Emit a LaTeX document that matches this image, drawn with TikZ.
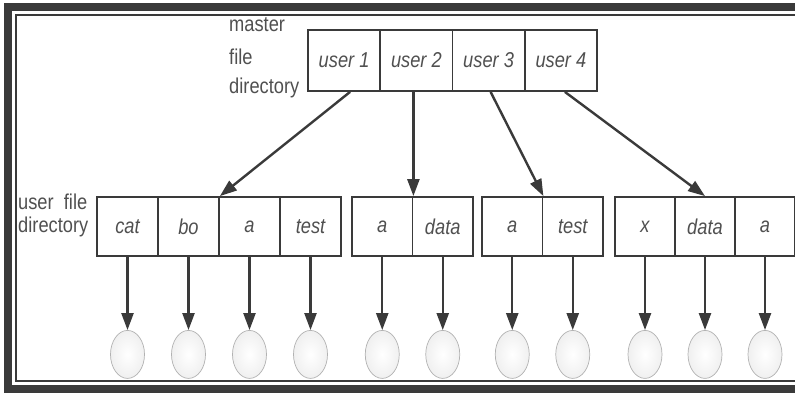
\documentclass[tikz,border=0pt]{standalone}
\usepackage{fontspec}
\setmainfont[FakeStretch=0.85]{Liberation Sans}
\usetikzlibrary{arrows.meta,calc,shapes.geometric}
\definecolor{ink}{HTML}{3A3A3A}
\definecolor{txt}{HTML}{505050}
\begin{document}
\begin{tikzpicture}[x=1pt,y=-1pt,
  cellbox/.style={draw=ink,line width=1.8pt,minimum height=59pt,inner sep=0pt,
    font=\fontsize{21.5}{21.5}\selectfont\itshape,text=txt},
  mcell/.style={cellbox,minimum width=72.25pt,minimum height=61pt},
  ucell/.style={cellbox,minimum width=61pt},
  ucellb/.style={cellbox,minimum width=60.5pt},
  filenode/.style={ellipse,minimum width=34pt,minimum height=48pt,inner sep=0pt,
    draw=gray!60,line width=0.7pt,inner color=white,outer color=gray!12},
  ptr/.style={draw=ink,line width=2.4pt,-{Triangle[length=17pt,width=12pt]}},
  lbl/.style={font=\fontsize{21.5}{21.5}\selectfont,text=txt,inner sep=0pt,anchor=west}
]
\useasboundingbox (0,0) rectangle (795,393);
% frame
\begin{scope}
\clip (0,0) rectangle (795,393);
\draw[ink,line width=8pt] (8,7) rectangle (830,389);
\draw[ink,line width=1.3pt] (16,15) rectangle (830,381);
\end{scope}
% master file directory
\node[lbl] (ml1) at (229,25) {master};
\node[lbl] (ml2) at (229,57) {file};
\node[lbl] (ml3) at (229,88) {directory};
\node[mcell] (u1) at (344.1,60.5) {user 1};
\node[mcell] (u2) at (416.4,60.5) {user 2};
\node[mcell] (u3) at (488.6,60.5) {user 3};
\node[mcell] (u4) at (560.9,60.5) {user 4};
% user file directory label
\node[lbl] (ul1) at (18,202) {user\ \ file};
\node[lbl] (ul2) at (18,227) {directory};
% user file directories
\node[ucell] (g1a) at (127.5,226.5) {cat};
\node[ucell] (g1b) at (188.5,226.5) {bo};
\node[ucell] (g1c) at (249.5,226.5) {a};
\node[ucell] (g1d) at (310.5,226.5) {test};
\node[ucellb] (g2a) at (382.25,226.5) {a};
\node[ucellb] (g2b) at (442.75,226.5) {data};
\node[ucellb] (g3a) at (512.25,226.5) {a};
\node[ucellb] (g3b) at (572.75,226.5) {test};
\node[ucell,minimum width=60pt] (g4a) at (645,226.5) {x};
\node[ucell,minimum width=60pt] (g4b) at (705,226.5) {data};
\node[ucell,minimum width=60pt] (g4c) at (765,226.5) {a};
% files
\foreach \c in {g1a,g1b,g1c,g1d,g2a,g2b,g3a,g3b,g4a,g4b,g4c}{
  \node[filenode] (f\c) at ($(\c.south)+(0,97.5)$) {};
  \draw[ptr] (\c.south) -- (f\c.north);
}
% master pointers
\coordinate (s1) at ($(u1.south)+(6,0)$);
\coordinate (s2) at (g2a.north east |- u2.south);
\coordinate (s3) at ($(u3.south)+(2,0)$);
\coordinate (s4) at ($(u4.south)+(4,0)$);
\draw[ptr] (s1) -- (g1b.north east);
\draw[ptr] (s2) -- (g2a.north east);
\draw[ptr] (s3) -- (g3a.north east);
\draw[ptr] (s4) -- (g4b.north);
\end{tikzpicture}
\end{document}
